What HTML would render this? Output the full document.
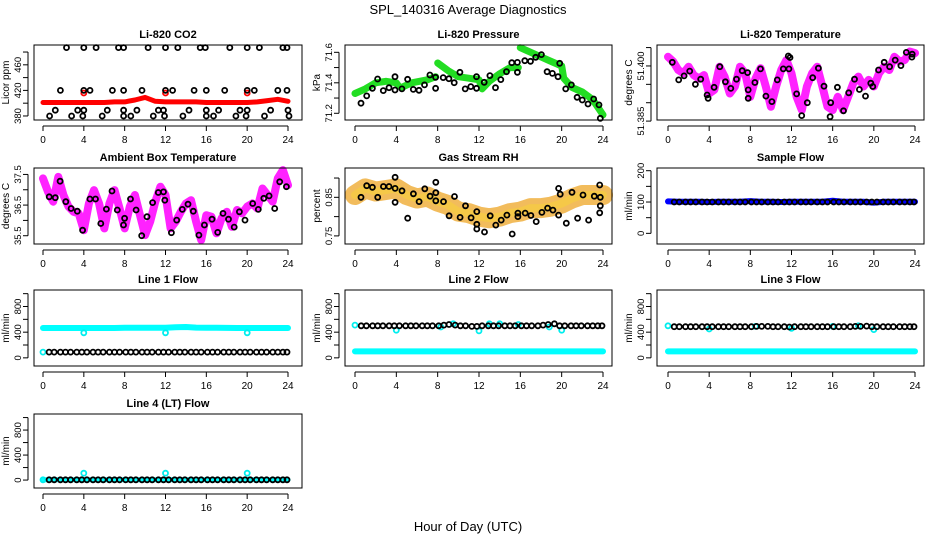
<!DOCTYPE html>
<html><head><meta charset="utf-8"><style>
html,body{margin:0;padding:0;background:#fff;}
svg{display:block;font-family:"Liberation Sans",sans-serif;}
</style></head><body>
<svg id="chart" width="936" height="540" viewBox="0 0 936 540" xmlns="http://www.w3.org/2000/svg">
<text x="468" y="14" text-anchor="middle" font-size="13">SPL_140316  Average Diagnostics</text>
<text x="468" y="531" text-anchor="middle" font-size="13">Hour of Day (UTC)</text>
</svg>
<script>
const hourTicks=[0,4,8,12,16,20,24];
const sampleHours=[0.6,1.1,1.7,2.2,2.7,3.3,3.8,4.3,4.9,5.4,5.9,6.5,7.0,7.5,8.1,8.6,9.1,9.7,10.2,10.7,11.3,11.8,12.3,12.9,13.4,13.9,14.5,15.0,15.5,16.1,16.6,17.1,17.7,18.2,18.7,19.3,19.8,20.3,20.9,21.4,21.9,22.5,23.0,23.5,23.9];
const hourly=[0,1,2,3,4,5,6,7,8,9,10,11,12,13,14,15,16,17,18,19,20,21,22,23,24];
const halfHourly=[0,0.5,1,1.5,2,2.5,3,3.5,4,4.5,5,5.5,6,6.5,7,7.5,8,8.5,9,9.5,10,10.5,11,11.5,12,12.5,13,13.5,14,14.5,15,15.5,16,16.5,17,17.5,18,18.5,19,19.5,20,20.5,21,21.5,22,22.5,23,23.5,24];

// CO2
const co2Red=[401,401,401,401,401,401,401,402,402,405,409,403,402,402,402,402,401,401,401,401,401,402,404,406,403];
const co2RedCircleHours=[4,12,20];
const co2RedCircleVals=[416,416,416];
const co2BlkHours=[2.3,4.0,5.2,7.4,7.9,10.3,12.0,13.2,15.4,15.9,18.3,20.0,21.2,23.5,23.9, 1.7,4.0,4.6,6.8,7.9,9.7,12.0,12.7,14.8,16.0,17.8,20.0,20.7,23.0,23.9, 1.2,3.4,4.0,6.3,7.9,9.2,11.3,11.8,14.3,16.0,17.2,19.3,20.0,22.3,24.0, 0.65,2.8,3.9,5.8,7.9,8.6,10.8,11.9,13.7,16.0,16.7,18.9,19.9,21.7,24.1];
const co2BlkVals=[487,487,487,487,487,487,487,487,487,487,487,487,487,487,487, 420,420,420,420,420,420,420,420,420,420,420,420,420,420,420, 389,389,389,389,389,389,389,389,389,389,389,389,389,389,389, 380,380,380,380,380,380,380,380,380,380,380,380,380,380,380];
const co2Ticks=[380,400,420,440,460,480];
const co2Labels=[380,420,460];

// Pressure
const presGreenHours=[0,1,2,3,4,4.2,null,4.5,5.5,7,7.8,null,8.0,9,10,11,12,12.3,13,14,15,15.8,null,16,17,18,19,20,20.2,21,22,23,24];
const presGreenVals=[71.33,71.36,71.40,71.41,71.40,71.38,null,71.37,71.40,71.42,71.44,null,71.53,71.48,71.44,71.43,71.42,71.36,71.41,71.46,71.50,71.50,null,71.63,71.60,71.57,71.54,71.51,71.43,71.37,71.34,71.29,71.19];
const presBlkHours=[0.58,1.13,1.68,2.19,2.74,3.29,3.87,3.87,4.54,5.09,5.64,6.19,6.73,7.25,7.80,7.80,8.54,9.09,9.60,10.15,10.66,11.21,11.76,11.76,12.50,13.05,13.60,14.11,14.66,15.17,15.72,15.72,16.43,16.98,17.49,18.04,18.59,19.10,19.65,19.81,20.39,20.94,21.49,22.00,22.55,23.10,23.61,23.74];
const presBlkVals=[71.266,71.314,71.364,71.425,71.349,71.368,71.440,71.353,71.360,71.423,71.357,71.351,71.386,71.451,71.436,71.364,71.434,71.427,71.401,71.469,71.360,71.375,71.440,71.364,71.403,71.447,71.368,71.421,71.473,71.532,71.534,71.469,71.545,71.541,71.567,71.585,71.473,71.462,71.440,71.528,71.360,71.386,71.305,71.287,71.261,71.294,71.255,71.167];
const presTicks=[71.2,71.3,71.4,71.5,71.6];
const presLabels=[71.2,71.4,71.6];

// Li-820 temperature
const ltMag=[51.4025,51.4012,51.3989,51.3980,51.3998,51.3975,51.3966,51.3975,51.3925,51.3935,51.3998,51.3971,51.3925,51.3944,51.3998,51.3980,51.3916,51.3966,51.3994,51.3944,51.3889,51.3944,51.3989,51.4016,51.3980,51.3916,51.3880,51.3944,51.3980,51.3998,51.3944,51.3889,51.3880,51.3916,51.3880,51.3916,51.3953,51.3971,51.3944,51.3962,51.3944,51.3980,51.3998,51.3989,51.4025,51.4012,51.4016,51.4039,51.4035];
const ltBlkHours=[0.42,1.04,1.56,2.11,2.66,3.18,3.80,3.90,4.48,5.03,5.58,6.10,6.66,7.21,7.73,7.79,7.79,8.44,8.99,9.51,10.10,10.62,11.20,11.75,11.69,11.85,12.50,12.99,13.54,14.06,14.61,15.16,15.75,15.81,16.46,17.05,17.56,18.12,18.60,19.19,19.71,19.90,20.45,21.01,21.53,22.08,22.63,23.15,23.73,23.70];
const ltBlkVals=[51.4010,51.3962,51.3973,51.3986,51.3950,51.3964,51.3921,51.3912,51.3942,51.3998,51.3957,51.3939,51.3964,51.3987,51.3982,51.3935,51.3912,51.3955,51.3992,51.3918,51.3903,51.3962,51.3992,51.3992,51.4027,51.4023,51.3924,51.3865,51.3900,51.3968,51.3994,51.3945,51.3862,51.3900,51.3942,51.3878,51.3927,51.3964,51.3936,51.3918,51.3953,51.3944,51.3989,51.4010,51.3998,51.4016,51.4001,51.4037,51.4032,51.4024];
const ltTicks=[51.385,51.390,51.395,51.400,51.405];
const ltLabels=["51.385","51.400"];

// Ambient
const ambMag=[37.37,36.93,36.61,37.42,36.83,36.45,36.28,36.23,35.68,36.55,36.99,36.55,35.74,36.55,36.99,36.39,35.74,36.45,36.83,36.17,35.52,35.96,36.61,37.10,36.83,35.74,35.96,36.28,36.55,36.66,35.96,35.36,36.17,36.12,35.58,36.07,36.28,35.79,36.34,36.23,36.45,36.55,36.39,37.04,36.83,36.61,37.37,37.64,37.15];
const ambBlkHours=[0.61,1.20,1.68,2.23,2.75,3.36,3.88,4.59,5.14,5.66,6.21,6.76,7.28,7.89,7.99,8.57,9.12,9.67,10.19,10.74,11.29,11.80,11.93,12.58,13.10,13.65,14.20,14.72,15.27,15.81,16.56,17.11,17.63,18.17,18.73,19.24,19.79,20.54,21.09,21.63,22.15,22.70,23.19,23.84];
const ambBlkVals=[36.77,36.74,37.28,36.61,36.39,36.30,35.68,36.70,36.70,35.90,36.37,36.96,36.34,35.85,36.07,36.70,36.34,35.50,36.12,36.58,36.91,36.93,36.66,35.60,36.01,36.36,36.53,36.30,35.52,35.85,36.04,35.61,36.23,36.04,35.78,36.28,36.01,36.55,36.36,36.72,36.80,36.39,37.26,37.10];
const ambTicks=[35.5,36.0,36.5,37.0,37.5];
const ambLabels=["35.5","36.5","37.5"];

// Gas stream RH
const rhOrange=[0.856,0.873,0.865,0.869,0.873,0.856,0.847,0.852,0.839,0.830,0.813,0.809,0.800,0.796,0.800,0.809,0.813,0.822,0.822,0.826,0.834,0.847,0.856,0.856,0.856];
const rhBlkHours=[0.58,1.13,1.68,2.20,2.75,3.29,3.88,3.88,3.88,4.55,5.10,5.65,6.20,6.75,7.27,7.82,7.82,7.82,8.56,9.11,9.63,10.17,10.69,11.24,11.79,11.79,11.79,12.53,13.08,13.63,14.15,14.70,15.21,15.76,15.76,16.47,17.02,17.54,18.09,18.64,19.15,19.70,19.70,19.86,20.45,21.00,21.54,22.06,22.61,23.16,23.68,23.74,23.74,23.68];
const rhBlkVals=[0.850,0.880,0.876,0.850,0.878,0.878,0.902,0.873,0.837,0.867,0.796,0.859,0.839,0.872,0.853,0.889,0.862,0.841,0.839,0.802,0.852,0.798,0.828,0.797,0.813,0.780,0.768,0.760,0.802,0.778,0.791,0.804,0.755,0.800,0.809,0.809,0.803,0.787,0.811,0.822,0.817,0.873,0.804,0.858,0.783,0.863,0.796,0.856,0.791,0.853,0.882,0.850,0.828,0.810];
const rhTicks=[0.75,0.80,0.85,0.90];
const rhLabels=["0.75","0.85"];

// Flows
const sampleBlue=[102,101,101,101,100,101,101,101,103,101,101,100,101,101,101,101,104,101,101,101,98,101,101,101,101];
const sampleBlk=[100,100,100,100,100,100,100,100,100,100,100,100,100,100,100,100,100,100,100,100,100,100,100,100,100,100,100,100,100,100,100,100,100,100,100,100,100,100,100,100,100,100,100,100,100];
const sampleTicks=[0,50,100,150,200];
const sampleLabels=[0,100,200];

const flowTicks=[0,200,400,600,800,1000];
const flowLabels=[0,400,800];
const line1Cyan=[465,465,465,465,465,465,465,465,468,468,470,470,470,478,480,472,468,468,466,465,465,465,465,465,465];
const line1CyanPtHours=[0,4,12,20];
const line1CyanPtVals=[90,390,390,390];
const line1Blk=[90,90,90,90,90,90,90,90,90,90,90,90,90,90,90,90,90,90,90,90,90,90,90,90,90,90,90,90,90,90,90,90,90,90,90,90,90,90,90,90,90,90,90,90,90];

const line2Cyan=[100,100,100,100,100,100,100,100,100,100,100,100,100,100,100,100,100,100,100,100,100,100,100,100,100];
const line2CyanPtHours=[0,4,8.3,9.5,12,13,14,15.8,18.8,20];
const line2CyanPtVals=[510,430,480,530,420,530,530,520,480,430];
const line2Blk=[500,500,500,500,500,500,500,500,500,500,500,500,500,500,500,510,520,510,500,500,490,490,500,500,500,500,500,500,500,500,500,500,500,510,520,530,500,500,500,500,500,500,500,500,500];

const line3Cyan=[100,100,100,100,100,100,100,100,100,100,100,100,100,100,100,100,100,100,100,100,100,100,100,100,100];
const line3CyanPtHours=[0,4,8.5,12,16,18.5,20];
const line3CyanPtVals=[500,450,490,460,490,500,440];
const line3Blk=[485,485,485,485,485,485,485,485,485,485,485,485,485,485,485,490,490,490,485,485,485,480,485,485,485,485,485,485,485,485,485,485,485,490,490,495,485,485,485,485,485,485,485,485,485];

const line4Cyan=[5,5,5,5,5,5,5,5,5,5,5,5,5,5,5,5,5,5,5,5,5,5,5,5,5];
const line4CyanPtHours=[0,4,12,20];
const line4CyanPtVals=[5,110,110,110];
const line4Blk=[5,5,5,5,5,5,5,5,5,5,5,5,5,5,5,5,5,5,5,5,5,5,5,5,5,5,5,5,5,5,5,5,5,5,5,5,5,5,5,5,5,5,5,5,5];

const NS='http://www.w3.org/2000/svg';
const svg=document.getElementById('chart');
function mk(tag,attrs,parent){const e=document.createElementNS(NS,tag);for(const k in attrs)e.setAttribute(k,attrs[k]);(parent||svg).appendChild(e);return e;}

const cols=[{l:34,r:302,x0:43,x24:288},{l:345,r:612,x0:355,x24:603},{l:657,r:924,x0:668,x24:915}];
const rows=[{t:45,b:120},{t:168,b:244},{t:290,b:366},{t:414,b:488}];

function panel(name,title,ylab,ci,ri,ymin,ymax,ticks,labels){
  const c=cols[ci],r=rows[ri];
  const g=mk('g',{});
  
  
  const sx=h=>c.x0+h*(c.x24-c.x0)/24;
  const sy=v=>r.t+(ymax-v)/(ymax-ymin)*(r.b-r.t);
  const t=mk('text',{x:(c.l+c.r)/2,y:r.t-7,'text-anchor':'middle','font-size':'11','font-weight':'bold'},g);
  t.textContent=title;
  
  
  const yl=mk('text',{transform:`translate(${c.l-25},${(r.t+r.b)/2}) rotate(-90)`,'text-anchor':'middle','font-size':'10'},g);
  yl.textContent=ylab;
  
  
  const plot=mk('g',{},g);
  
  
  const frame=mk('rect',{x:c.l,y:r.t,width:c.r-c.l,height:r.b-r.t,fill:'none',stroke:'#000','stroke-width':1},g);
  
  
  const xa=mk('g',{},g);
  
  
  mk('line',{x1:sx(0),x2:sx(24),y1:r.b+6,y2:r.b+6,stroke:'#000'},xa);
  hourTicks.forEach(h=>{
    mk('line',{x1:sx(h),x2:sx(h),y1:r.b+6,y2:r.b+11,stroke:'#000'},xa);
    const tl=mk('text',{x:sx(h),y:r.b+23,'text-anchor':'middle','font-size':'10'},xa);
    tl.textContent=h;
    
    
  });
  const ya=mk('g',{},g);
  
  
  mk('line',{x1:c.l-6,x2:c.l-6,y1:sy(ticks[0]),y2:sy(ticks[ticks.length-1]),stroke:'#000'},ya);
  ticks.forEach(v=>mk('line',{x1:c.l-11,x2:c.l-6,y1:sy(v),y2:sy(v),stroke:'#000'},ya));
  labels.forEach(v=>{
    const tl=mk('text',{transform:`translate(${c.l-13},${sy(+v)}) rotate(-90)`,'text-anchor':'middle','font-size':'9.5'},ya);
    tl.textContent=v;
    
    
  });
  return {plot,sx,sy};
}
function band(p,hours,vals,color,w,name,op){
  let d='',pen=false;
  for(let i=0;i<hours.length;i++){
    if(hours[i]===null||vals[i]===null){pen=false;continue;}
    d+=(pen?'L':'M')+p.sx(hours[i]).toFixed(1)+','+p.sy(vals[i]).toFixed(1);pen=true;
  }
  const e=mk('path',{d:d,fill:'none',stroke:color,'stroke-width':w,'stroke-linejoin':'round','stroke-linecap':'round','stroke-opacity':op||1},p.plot);
  
  
}
function pts(p,hours,vals,color,name,rr,sw){
  for(let i=0;i<hours.length;i++){
    const e=mk('circle',{cx:p.sx(hours[i]).toFixed(1),cy:p.sy(vals[i]).toFixed(1),r:rr||2.5,fill:'none',stroke:color,'stroke-width':sw||1.8},p.plot);
    
    
  }
}

let p=panel('co2-panel','Li-820 CO2','Licor ppm',0,0,373.7,491,co2Ticks,co2Labels);
band(p,hourly,co2Red,'#ff0000',5,'co2-band');
pts(p,co2RedCircleHours,co2RedCircleVals,'#ff0000','co2-red-point');
pts(p,co2BlkHours,co2BlkVals,'#000','co2-point');

p=panel('pressure-panel','Li-820 Pressure','kPa',1,0,71.156,71.648,presTicks,presLabels);
band(p,presGreenHours,presGreenVals,'#22dd22',7,'pressure-band');
pts(p,presBlkHours,presBlkVals,'#000','pressure-point');

p=panel('li820-temp-panel','Li-820 Temperature','degrees C',2,0,51.3853,51.4057,ltTicks,ltLabels);
band(p,halfHourly,ltMag,'#ff22ff',8,'li820-temp-band');
pts(p,ltBlkHours,ltBlkVals,'#000','li820-temp-point');

p=panel('ambient-temp-panel','Ambient Box Temperature','degrees C',0,1,35.23,37.71,ambTicks,ambLabels);
band(p,halfHourly,ambMag,'#ff22ff',8,'ambient-temp-band');
pts(p,ambBlkHours,ambBlkVals,'#000','ambient-temp-point');

p=panel('rh-panel','Gas Stream RH','percent',1,1,0.729,0.926,rhTicks,rhLabels);
band(p,hourly,rhOrange,'#f0b040',20,'rh-band',0.85);
band(p,hourly,rhOrange,'#f5c848',8,'rh-band-core');
pts(p,rhBlkHours,rhBlkVals,'#000','rh-point');

p=panel('sample-flow-panel','Sample Flow','ml/min',2,1,-34,208.6,sampleTicks,sampleLabels);
band(p,hourly,sampleBlue,'#0000ff',6,'sample-flow-band');
pts(p,sampleHours,sampleBlk,'#000','sample-flow-point');

p=panel('line1-flow-panel','Line 1 Flow','ml/min',0,2,-127,1057,flowTicks,flowLabels);
band(p,hourly,line1Cyan,'#00ffff',6,'line1-cyan-band');
pts(p,line1CyanPtHours,line1CyanPtVals,'#00eeee','line1-cyan-point');
pts(p,sampleHours,line1Blk,'#000','line1-point');

p=panel('line2-flow-panel','Line 2 Flow','ml/min',1,2,-127,1057,flowTicks,flowLabels);
band(p,hourly,line2Cyan,'#00ffff',6,'line2-cyan-band');
pts(p,line2CyanPtHours,line2CyanPtVals,'#00eeee','line2-cyan-point');
pts(p,sampleHours,line2Blk,'#000','line2-point');

p=panel('line3-flow-panel','Line 3 Flow','ml/min',2,2,-127,1057,flowTicks,flowLabels);
band(p,hourly,line3Cyan,'#00ffff',6,'line3-cyan-band');
pts(p,line3CyanPtHours,line3CyanPtVals,'#00eeee','line3-cyan-point');
pts(p,sampleHours,line3Blk,'#000','line3-point');

p=panel('line4-flow-panel','Line 4 (LT) Flow','ml/min',0,3,-127,1057,flowTicks,flowLabels);
band(p,hourly,line4Cyan,'#00ffff',5,'line4-cyan-band');
pts(p,line4CyanPtHours,line4CyanPtVals,'#00eeee','line4-cyan-point');
pts(p,sampleHours,line4Blk,'#000','line4-point');
</script>
</body></html>
